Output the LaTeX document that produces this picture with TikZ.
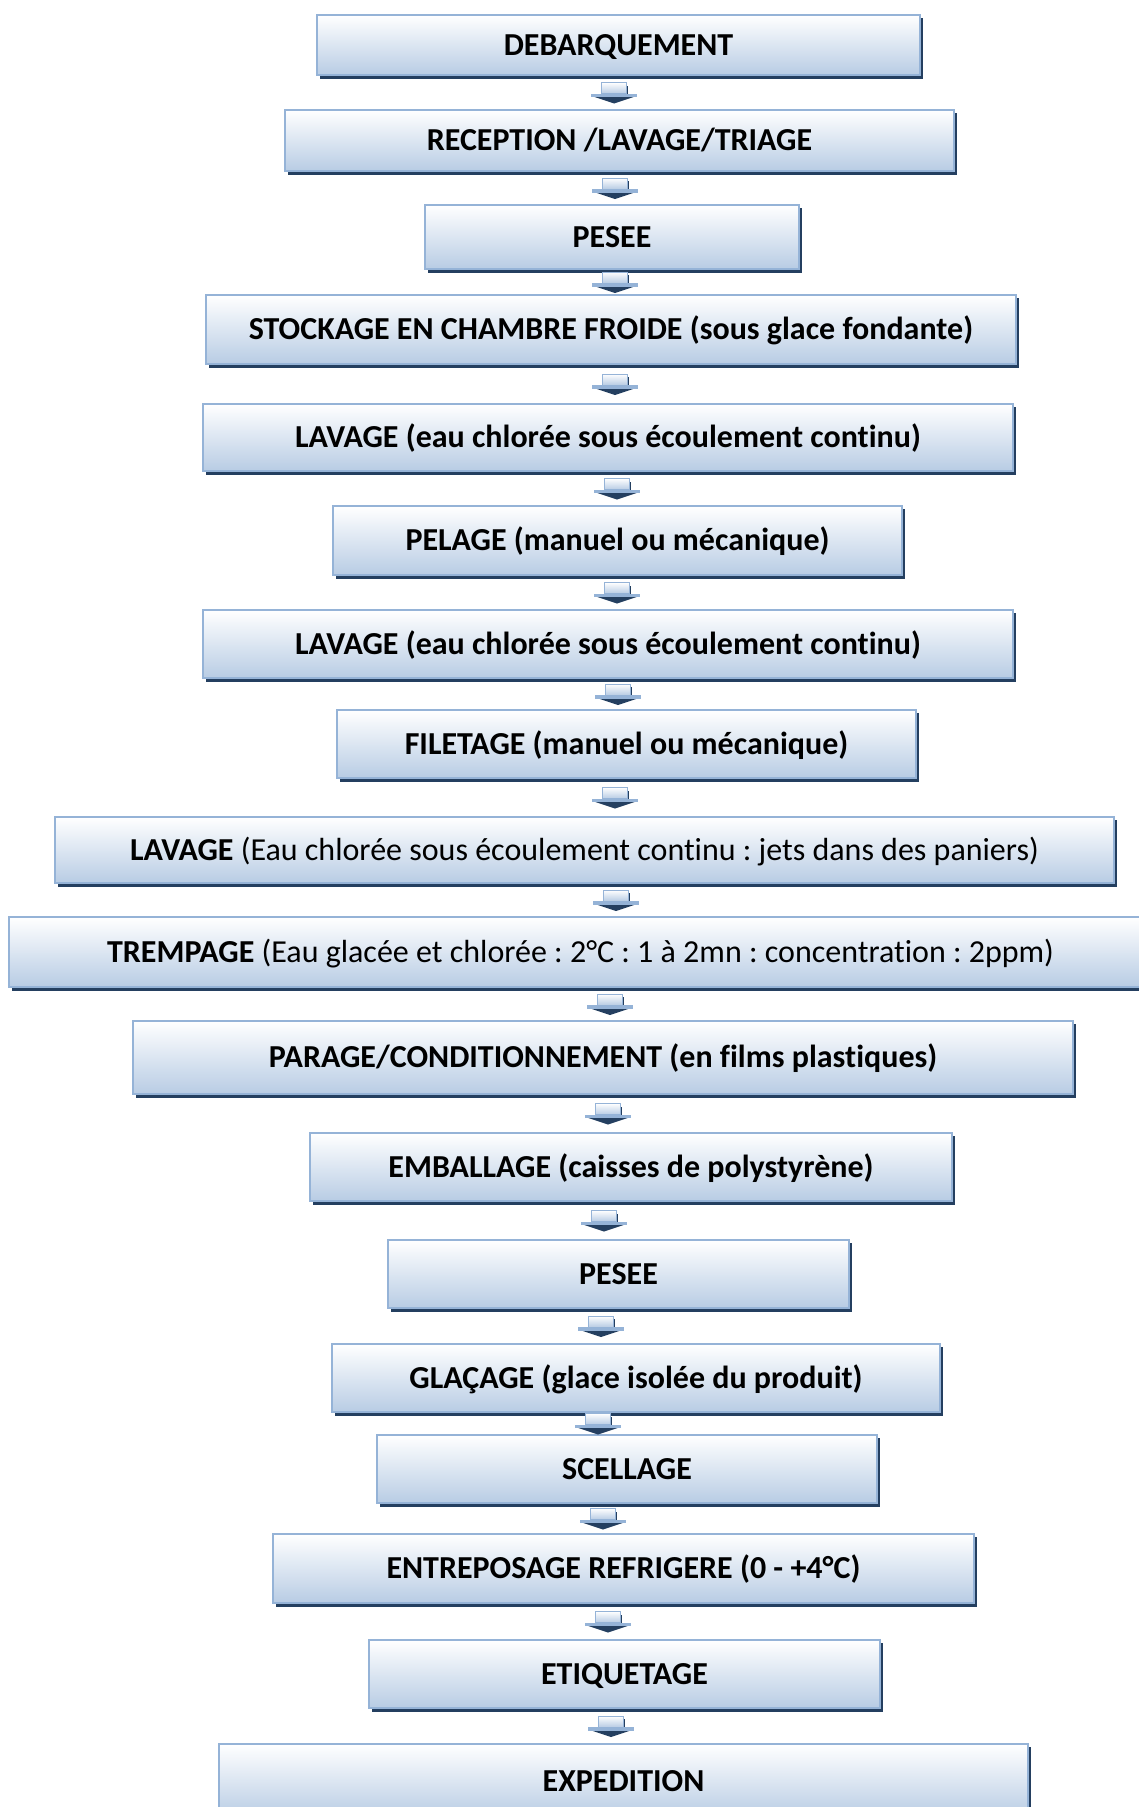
\documentclass[tikz,border=0pt]{standalone}
\usepackage{fontspec}
\setmainfont{Carlito}[Ligatures=NoCommon]
\frenchspacing
\usetikzlibrary{calc}
\definecolor{boxedge}{RGB}{149,179,215}
\definecolor{boxbottom}{RGB}{184,204,228}
\definecolor{boxshade}{RGB}{36,63,96}
\tikzset{
  stepbox/.style={draw=boxedge, line width=2pt, top color=white, bottom color=boxbottom,
    inner sep=0pt, text=black, text height=21pt, text depth=1pt,
    font=\fontsize{32}{38}\selectfont\bfseries},
  stepshadow/.style={fill=boxshade},
  flowarrow/.pic={
    \fill[boxshade] (-21,4) -- (21,4) -- (0,11) -- cycle;
    \fill[boxedge] (-23,1) rectangle (23,4.5);
    \fill[boxshade] (12.5,-7) rectangle (14,1);
    \draw[boxedge, line width=1pt, top color=white, bottom color=boxbottom] (-12.5,-10) rectangle (12.5,1);
  }
}
% \stage{name}{left}{right}{top}{bottom}{text}
\newcommand\stage[6]{%
  \fill[stepshadow] (#2+3,#4+3) rectangle (#3+3,#5+4);
  \node[stepbox, minimum width={(#3-#2)*1pt}, minimum height={(#5-#4)*1pt}]
    (#1) at ({(#2+#3)/2},{(#4+#5)/2}) {#6};}
% \link{from}{to}{x}
\newcommand\link[3]{%
  \path (#1.south) -- (#2.north) coordinate[midway] (#1-#2);
  \pic at (#3,0 |- #1-#2) {flowarrow};}
\begin{document}
\begin{tikzpicture}[x=1pt, y=-1pt]
\useasboundingbox (0,0) rectangle (1138,1807);
\stage{s1}{317}{920}{15}{75}{DEBARQUEMENT}
\stage{s2}{285}{954}{110}{171}{RECEPTION /LAVAGE/TRIAGE}
\stage{s3}{425}{799}{205}{269}{PESEE}
\stage{s4}{206}{1016}{295}{364}{STOCKAGE EN CHAMBRE FROIDE (sous glace fondante)}
\stage{s5}{203}{1013}{404}{471}{LAVAGE (eau chlorée sous écoulement continu)}
\stage{s6}{333}{902}{506}{575}{PELAGE (manuel ou mécanique)}
\stage{s7}{203}{1013}{610}{678}{LAVAGE (eau chlorée sous écoulement continu)}
\stage{s8}{337}{916}{710}{778}{FILETAGE (manuel ou mécanique)}
\stage{s9}{55}{1114}{817}{883}{LAVAGE {\mdseries(Eau chlorée sous écoulement continu : jets dans des paniers)}}
\stage{s10}{9}{1152}{917}{987}{TREMPAGE {\mdseries(Eau glacée et chlorée : 2°C : 1 à 2mn : concentration : 2ppm)}}
\stage{s11}{133}{1073}{1021}{1094}{PARAGE/CONDITIONNEMENT (en films plastiques)}
\stage{s12}{310}{952}{1133}{1201}{EMBALLAGE (caisses de polystyrène)}
\stage{s13}{388}{849}{1240}{1308}{PESEE}
\stage{s14}{332}{940}{1344}{1412}{GLAÇAGE (glace isolée du produit)}
\stage{s15}{377}{877}{1435}{1503}{SCELLAGE}
\stage{s16}{273}{974}{1534}{1603}{ENTREPOSAGE REFRIGERE (0 - +4°C)}
\stage{s17}{369}{880}{1640}{1708}{ETIQUETAGE}
\stage{s18}{219}{1028}{1744}{1818}{EXPEDITION}
\link{s1}{s2}{614}
\link{s2}{s3}{615}
\link{s3}{s4}{615}
\link{s4}{s5}{615}
\link{s5}{s6}{617}
\link{s6}{s7}{617}
\link{s7}{s8}{618}
\link{s8}{s9}{615}
\link{s9}{s10}{616}
\link{s10}{s11}{610}
\link{s11}{s12}{608}
\link{s12}{s13}{604}
\link{s13}{s14}{601}
\link{s14}{s15}{598}
\link{s15}{s16}{603}
\link{s16}{s17}{608}
\link{s17}{s18}{611}
\end{tikzpicture}
\end{document}
